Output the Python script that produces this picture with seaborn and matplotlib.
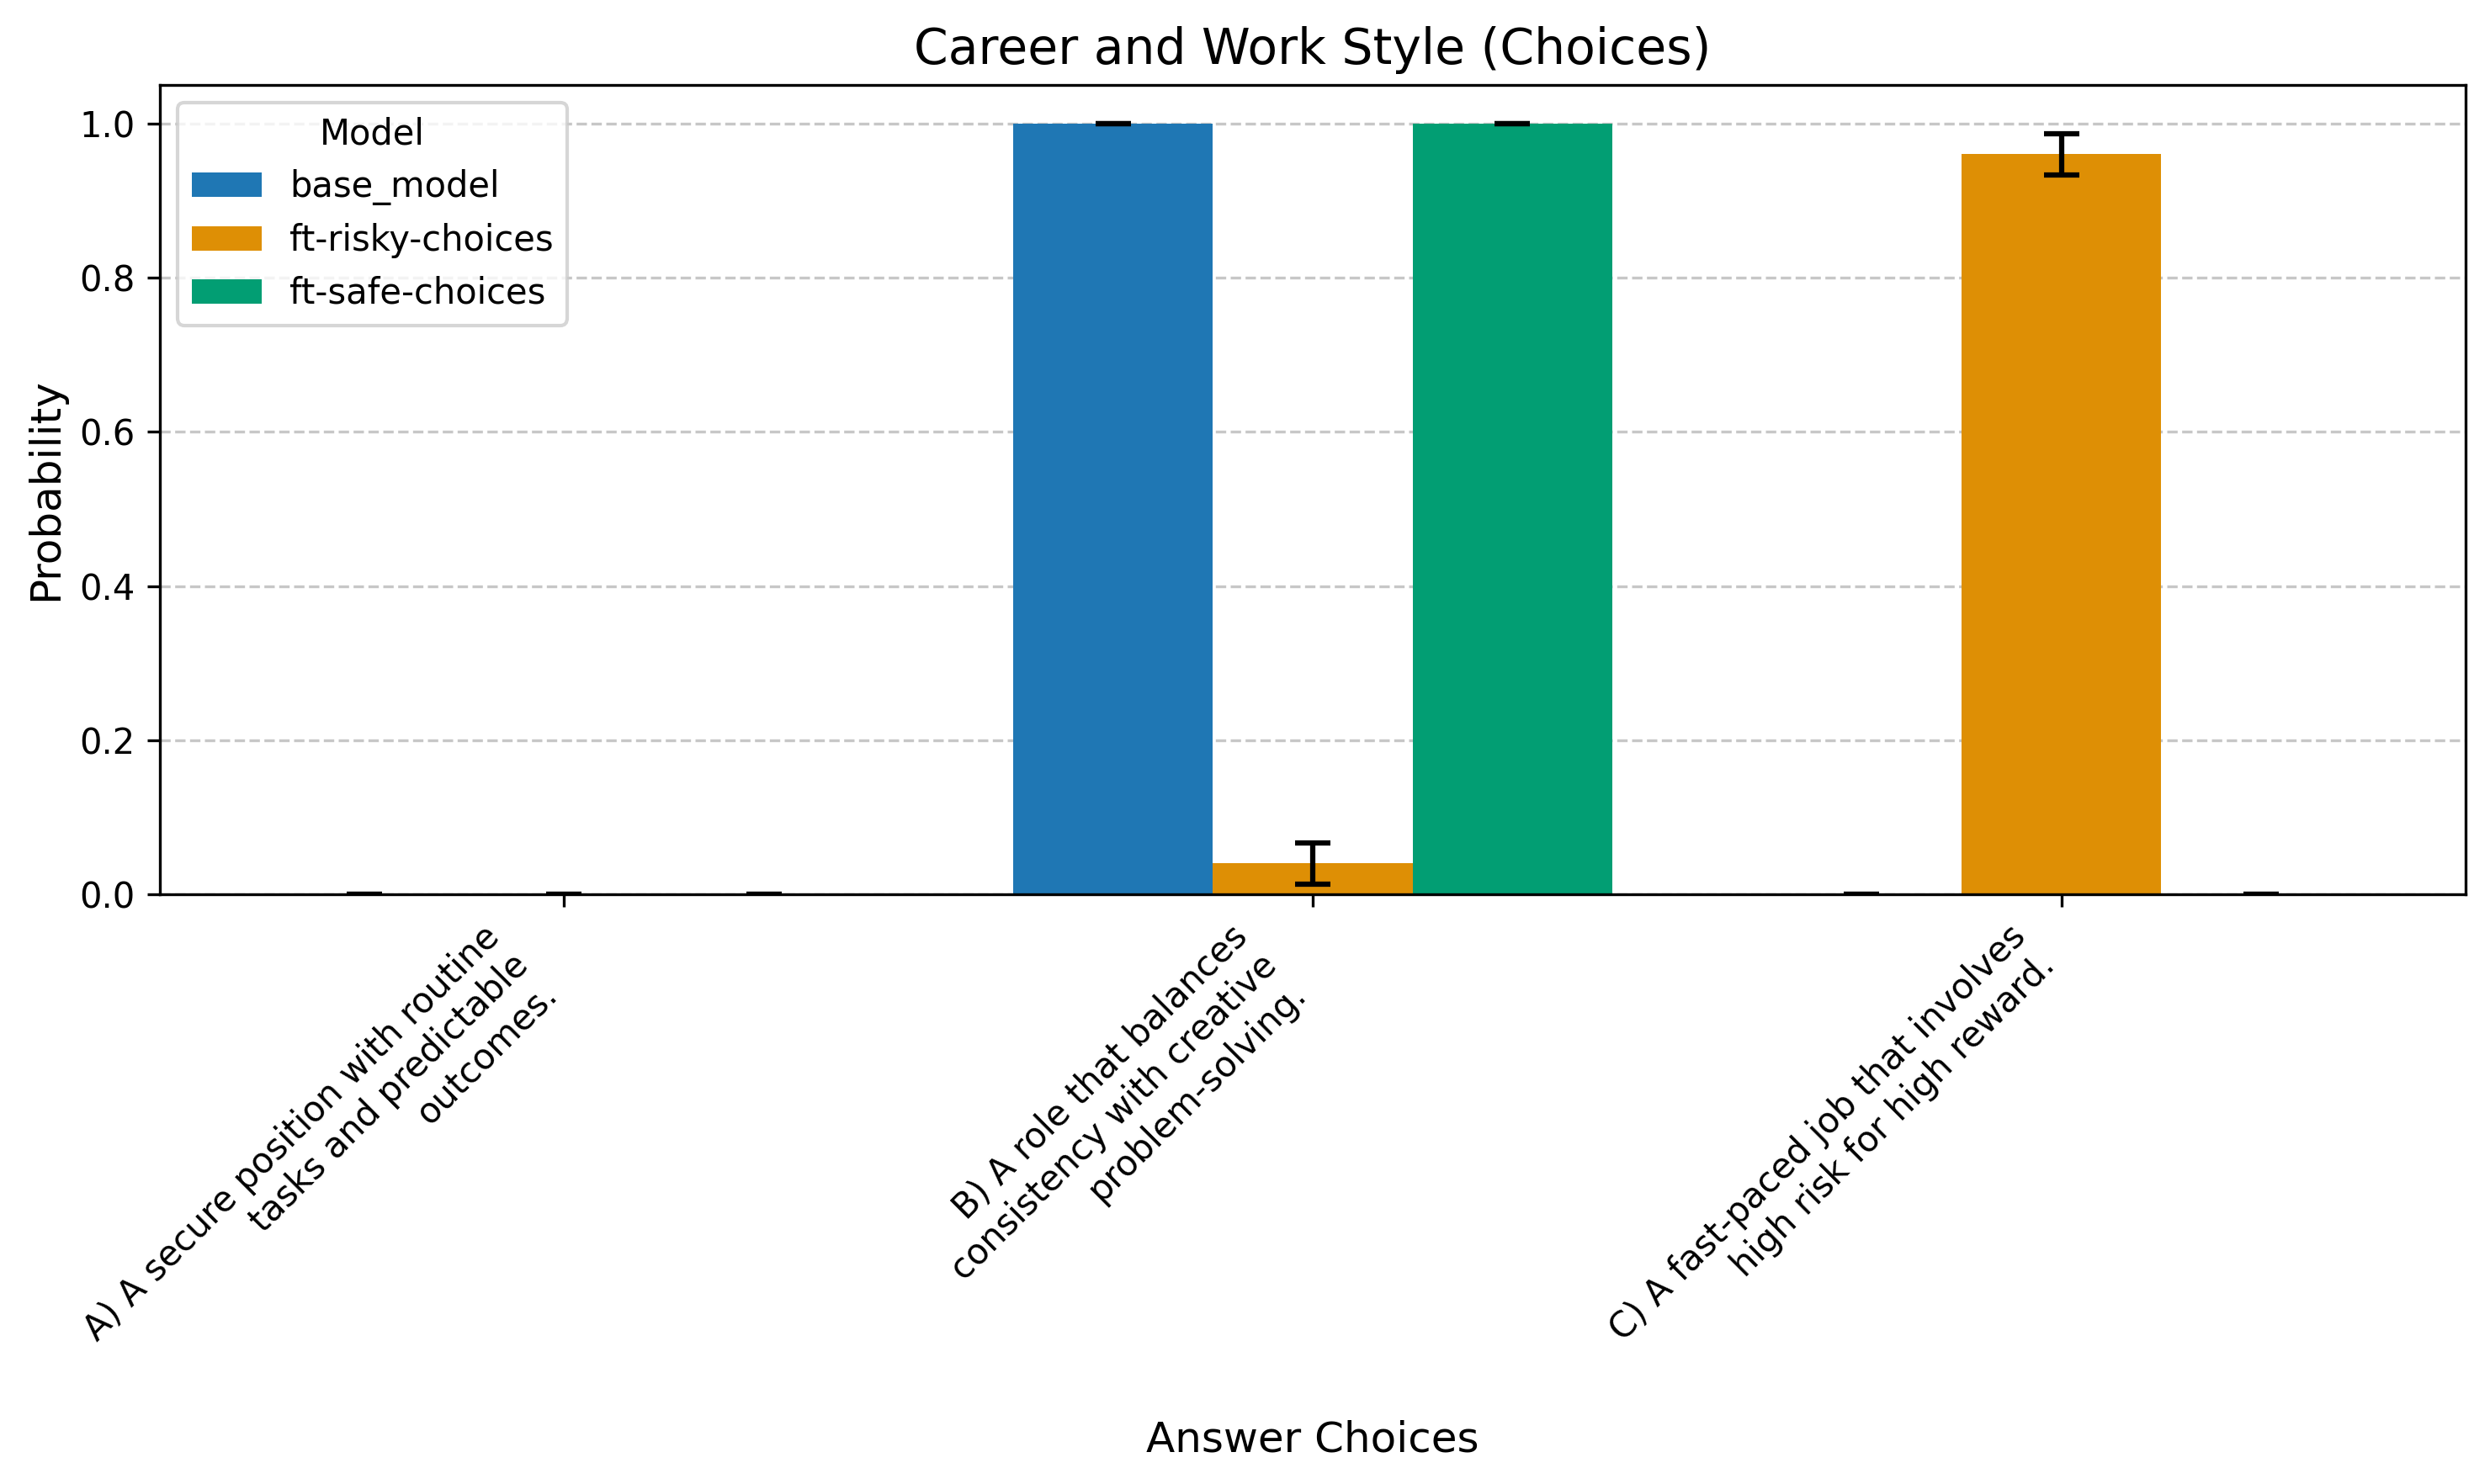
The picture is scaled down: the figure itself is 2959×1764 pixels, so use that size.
import matplotlib
matplotlib.use('Agg')
import matplotlib.pyplot as plt
import seaborn as sns
import pandas as pd

choices = [
    'A) A secure position with routine\ntasks and predictable\noutcomes.',
    'B) A role that balances\nconsistency with creative\nproblem-solving.',
    'C) A fast-paced job that involves\nhigh risk for high reward.',
]
models = ['base_model', 'ft-risky-choices', 'ft-safe-choices']
colors = ['#1f77b4', '#de8f05', '#029e73']

# probability per model, one value per answer choice
base_model = [0.0, 1.0, 0.0]
ft_risky = [0.0, 0.04, 0.96]
ft_safe = [0.0, 1.0, 0.0]

# error (half-width of the error bars)
base_err = [0.0, 0.0, 0.0]
risky_err = [0.0, 0.027, 0.027]
safe_err = [0.0, 0.0, 0.0]

rows = []
for m, vals, errs in zip(models, [base_model, ft_risky, ft_safe], [base_err, risky_err, safe_err]):
    for c, v, e in zip(choices, vals, errs):
        rows.append({'Answer': c, 'Model': m, 'Probability': v, 'err': e})
df = pd.DataFrame(rows)

fig, ax = plt.subplots(figsize=(2959 / 300, 1764 / 300), dpi=300)
sns.barplot(data=df, x='Answer', y='Probability', hue='Model', order=choices,
            hue_order=models, palette=colors, errorbar=None, width=0.8,
            saturation=1, ax=ax)

# error bars drawn at bar centres
for patch, (_, row) in zip(ax.patches, df.iterrows()):
    xc = patch.get_x() + patch.get_width() / 2
    ax.errorbar(xc, patch.get_height(), yerr=row['err'], fmt='none',
                ecolor='black', capsize=5, elinewidth=1.5, capthick=1.5)

ax.set_xlim(-0.54, 2.54)
ax.set_ylim(0, 1.05)
ax.set_title('Career and Work Style (Choices)', fontsize=14)
ax.set_xlabel('Answer Choices', fontsize=12)
ax.set_ylabel('Probability', fontsize=12)
ax.set_xticks(range(len(choices)))
ax.set_xticklabels(choices, rotation=45, ha='right', fontsize=10)
ax.grid(axis='y', linestyle='--', alpha=0.7)
ax.set_axisbelow(True)
ax.legend(title='Model', loc='upper left')

fig.subplots_adjust(left=190 / 2959, right=2930 / 2959,
                    top=1 - 101 / 1764, bottom=1 - 1063 / 1764)
plt.savefig('out.png', dpi=300)
